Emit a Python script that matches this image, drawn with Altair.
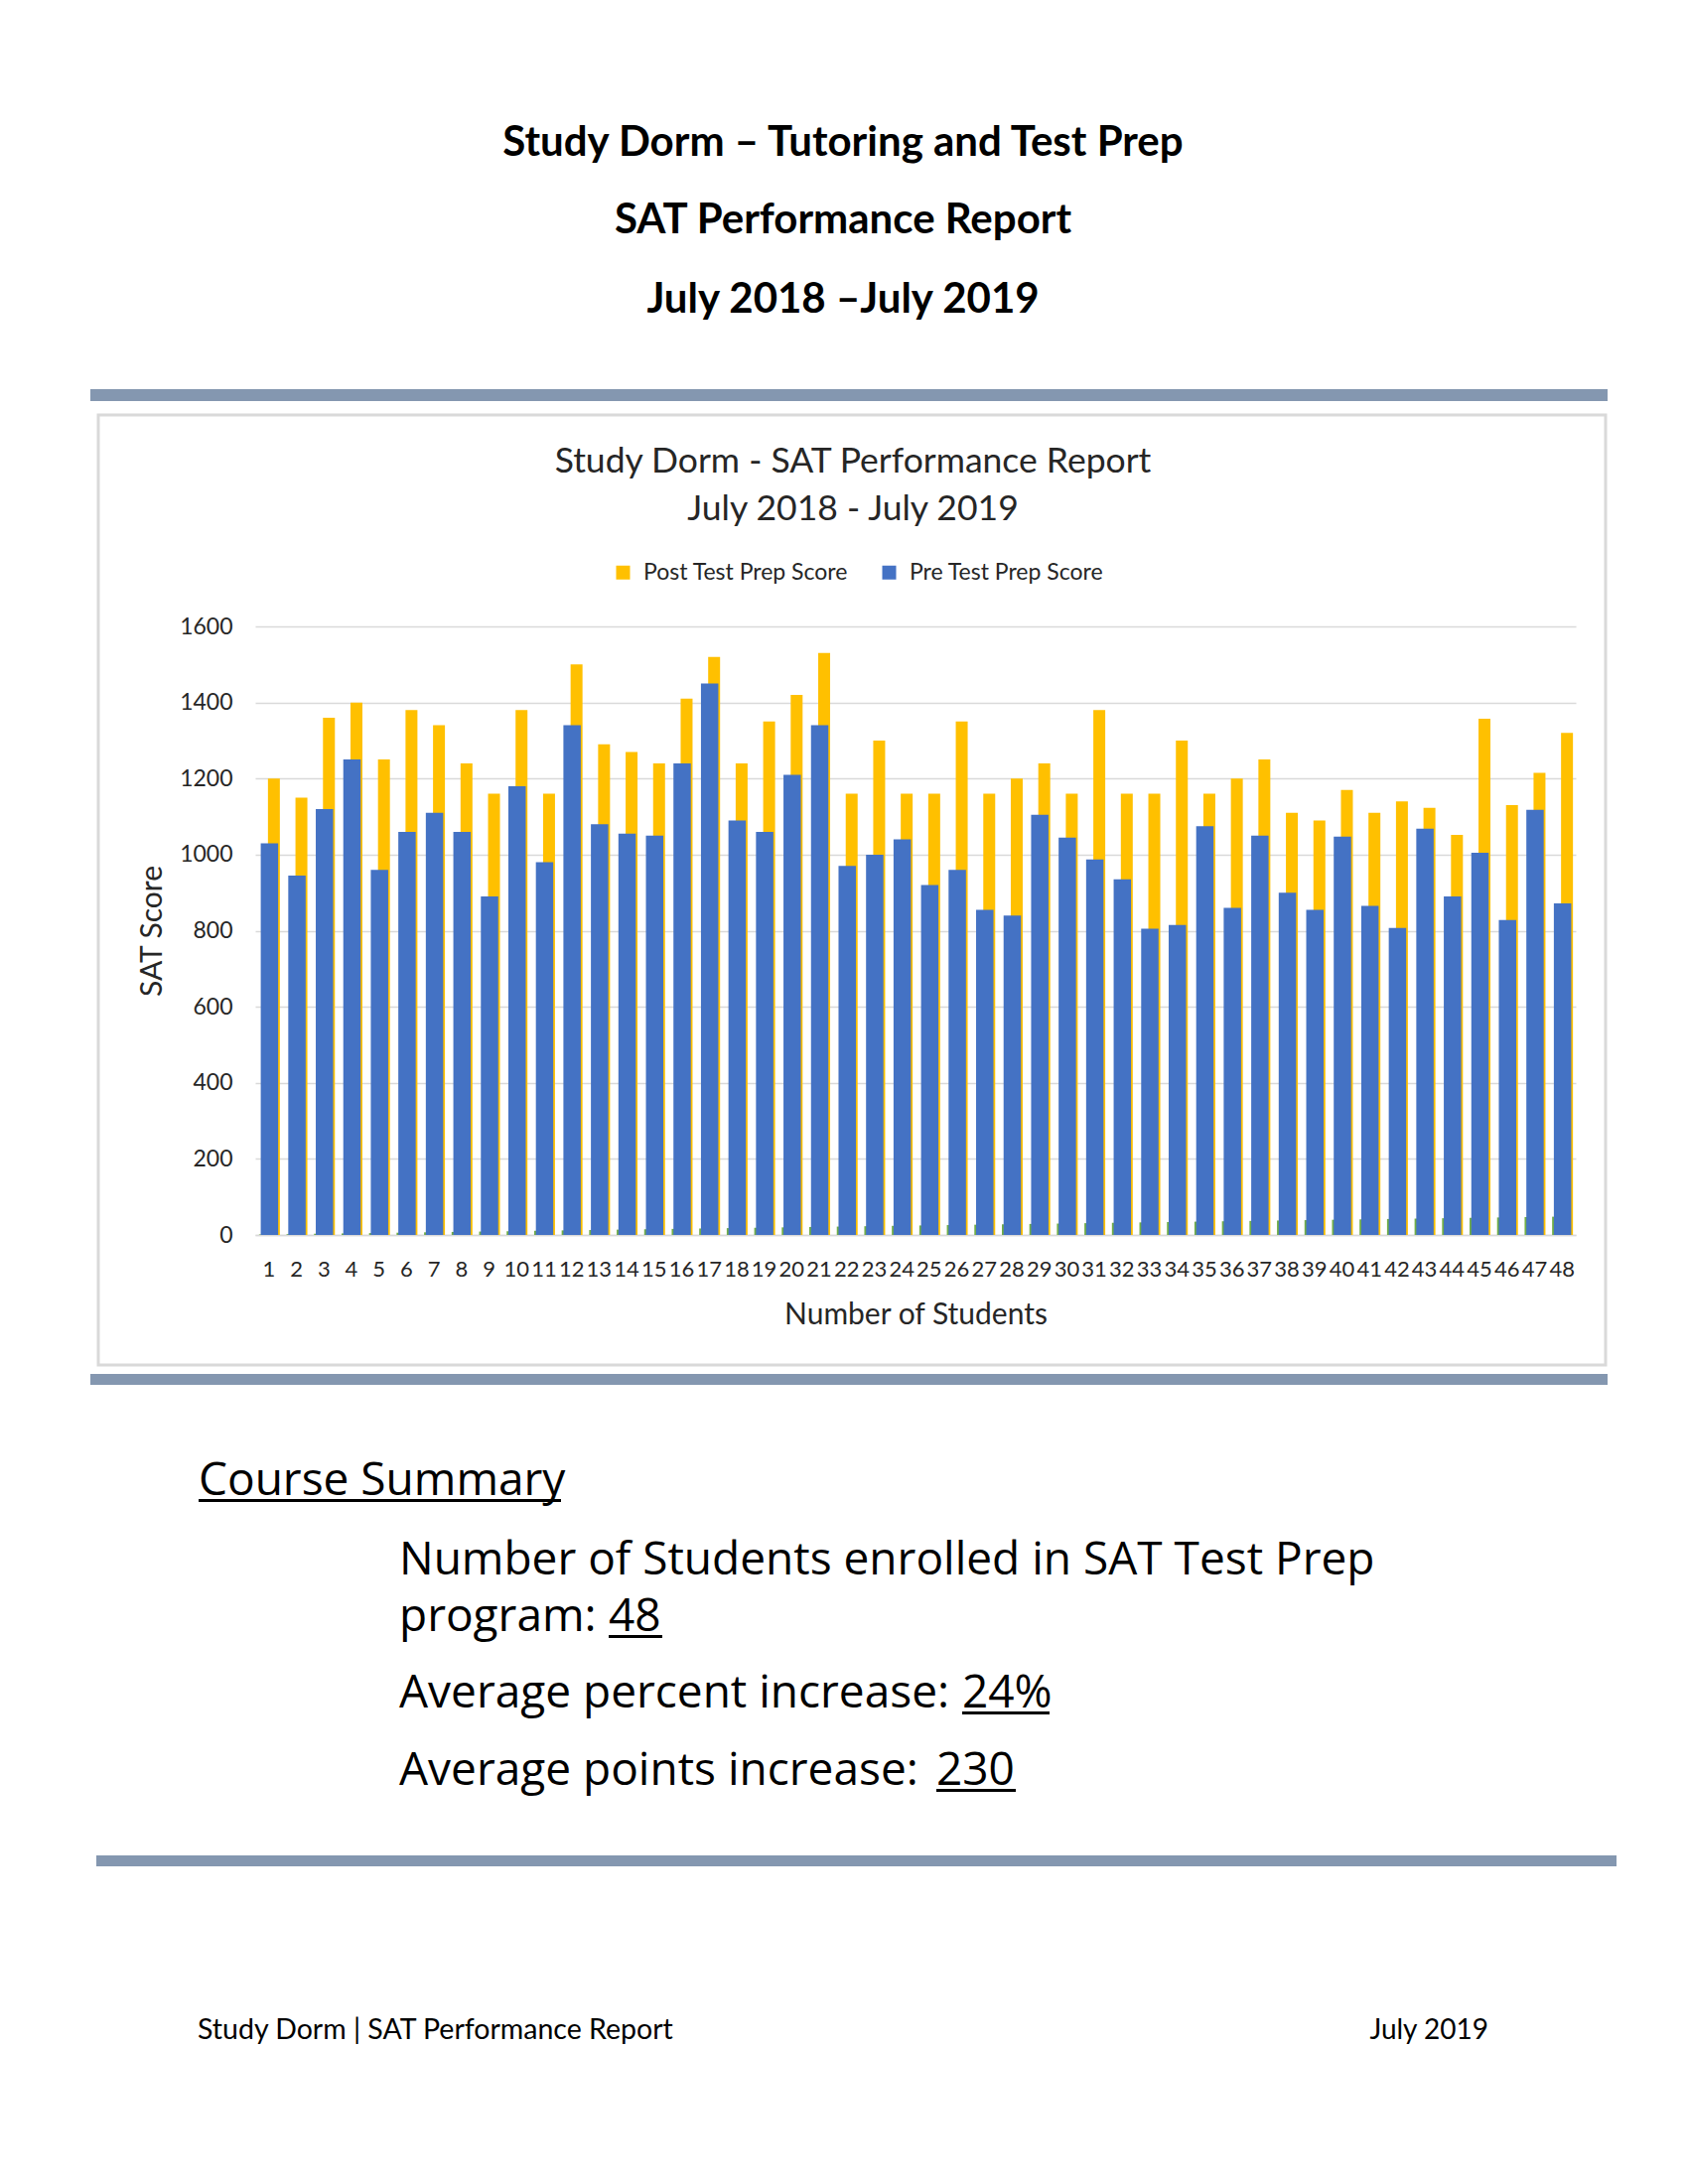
import altair as alt
import pandas as pd

# ---------------- data ----------------
students = list(range(1, 49))
pre_scores = [1030, 945, 1120, 1250, 960, 1060, 1110, 1060, 890, 1180, 980, 1340,
              1080, 1055, 1050, 1240, 1450, 1090, 1060, 1210, 1340, 970, 1000, 1040,
              920, 960, 855, 840, 1105, 1045, 987, 935, 805, 815, 1075, 860,
              1050, 900, 855, 1047, 865, 807, 1068, 890, 1005, 828, 1118, 872]
post_scores = [1200, 1150, 1360, 1400, 1250, 1380, 1340, 1240, 1160, 1380, 1160, 1500,
               1290, 1270, 1240, 1410, 1520, 1240, 1350, 1420, 1530, 1160, 1300, 1160,
               1160, 1350, 1160, 1200, 1240, 1160, 1380, 1160, 1160, 1300, 1160, 1200,
               1250, 1110, 1090, 1170, 1110, 1140, 1123, 1052, 1357, 1130, 1215, 1320]
student_number_series = students  # small third (green) series, student count
series_names = ["Post Test Prep Score", "Pre Test Prep Score"]
series_colors = ["#FFC000", "#4472C4"]
y_ticks = [0, 200, 400, 600, 800, 1000, 1200, 1400, 1600]

long_df = pd.DataFrame({
    "student": students * 2,
    "series": [series_names[0]] * len(students) + [series_names[1]] * len(students),
    "score": post_scores + pre_scores,
})
count_df = pd.DataFrame({"student": students, "score": student_number_series})
dummy = pd.DataFrame({"d": [0]})

# ---------------- layout helpers (page px -> plot px) ----------------
PLOT_L, PLOT_T, PLOT_W, PLOT_H = 257, 631, 1330, 613
def X(p):
    return p - PLOT_L
def Y(p):
    return p - PLOT_T

TXT = "#262626"
FONT = "Lato"

x_enc = alt.X("student:O", title="Number of Students",
              scale=alt.Scale(paddingInner=0, paddingOuter=0),
              axis=alt.Axis(labelAngle=0, labelFontSize=22, labelFont=FONT, labelColor=TXT,
                            labelOverlap=False, labelPadding=24, ticks=False,
                            domainColor="#D9D9D9", domainWidth=1.5,
                            titleFont=FONT, titleFontSize=30, titleFontWeight="normal",
                            titleColor=TXT, titlePadding=20, grid=False))
y_enc = alt.Y("score:Q", title="SAT Score",
              scale=alt.Scale(domain=[0, 1600], nice=False),
              axis=alt.Axis(values=y_ticks, format="d", labelFontSize=23, labelFont=FONT,
                            labelColor=TXT, labelPadding=23, ticks=False, domain=False,
                            gridColor="#D9D9D9", gridWidth=1.5,
                            titleFont=FONT, titleFontSize=30, titleFontWeight="normal",
                            titleColor=TXT, titlePadding=12))
color_enc = alt.Color("series:N",
                      scale=alt.Scale(domain=series_names, range=series_colors),
                      legend=alt.Legend(orient="none", legendX=X(616), legendY=Y(565),
                                        direction="horizontal", title=None,
                                        symbolType="square", symbolSize=196,
                                        symbolStrokeWidth=0, labelFont=FONT,
                                        labelFontSize=23, labelColor=TXT, labelLimit=0,
                                        labelOffset=9, columnPadding=29))

post_bars = alt.Chart(long_df).transform_filter(
    alt.datum.series == series_names[0]
).mark_bar(width=12, xOffset=5).encode(x=x_enc, y=y_enc, color=color_enc)

green_bars = alt.Chart(count_df).mark_bar(width=17, xOffset=-1.5, color="#70AD47").encode(
    x=x_enc, y=y_enc)

pre_bars = alt.Chart(long_df).transform_filter(
    alt.datum.series == series_names[1]
).mark_bar(width=17.5, xOffset=0.5).encode(x=x_enc, y=y_enc, color=color_enc)

# ---------------- page decorations ----------------
def band(x1, x2, y1, y2, color="#8497B0"):
    return alt.Chart(dummy).mark_rect(color=color).encode(
        x=alt.value(X(x1)), x2=alt.value(X(x2)), y=alt.value(Y(y1)), y2=alt.value(Y(y2)))

def text(s, x, y, size, weight="normal", align="center", baseline="alphabetic",
         font=FONT, color="#000000"):
    return alt.Chart(dummy).mark_text(text=s, fontSize=size, fontWeight=weight, align=align,
                                      baseline=baseline, font=font, color=color).encode(
        x=alt.value(X(x)), y=alt.value(Y(y)))

box = alt.Chart(dummy).mark_rect(filled=False, stroke="#D9D9D9", strokeWidth=3).encode(
    x=alt.value(X(99)), x2=alt.value(X(1617)), y=alt.value(Y(418)), y2=alt.value(Y(1375)))

decor = [
    box,
    band(91, 1619, 392, 404),
    band(91, 1619, 1384, 1395),
    band(97, 1628, 1869, 1880),
    text("Study Dorm \u2013 Tutoring and Test Prep", 849, 157, 42, weight="bold"),
    text("SAT Performance Report", 849, 235, 42, weight="bold"),
    text("July 2018 \u2013July 2019", 849, 315, 42, weight="bold"),
    text("Study Dorm - SAT Performance Report", 859, 476, 35.5, color=TXT),
    text("July 2018 - July 2019", 859, 524, 35.5, color=TXT),
]

SUM_FONT = "Open Sans"
SUM = 46
summary = [
    text("Course Summary", 200, 1506, SUM, align="left", font=SUM_FONT),
    band(200, 565, 1510, 1513, color="#000000"),
    text("Number of Students enrolled in SAT Test Prep", 402, 1586, SUM, align="left", font=SUM_FONT),
    text("program:", 402, 1643, SUM, align="left", font=SUM_FONT),
    text("48", 613, 1643, SUM, align="left", font=SUM_FONT),
    band(613, 667, 1647, 1650, color="#000000"),
    text("Average percent increase:", 402, 1720, SUM, align="left", font=SUM_FONT),
    text("24%", 969, 1720, SUM, align="left", font=SUM_FONT),
    band(969, 1057, 1724, 1727, color="#000000"),
    text("Average points increase:", 402, 1798, SUM, align="left", font=SUM_FONT),
    text("230", 943, 1798, SUM, align="left", font=SUM_FONT),
    band(943, 1023, 1802, 1805, color="#000000"),
    text("Study Dorm | SAT Performance Report", 199, 2054, 28.5, align="left"),
    text("July 2019", 1499, 2054, 28, align="right"),
]

chart = alt.layer(
    *decor, post_bars, green_bars, pre_bars, *summary
).properties(
    width=PLOT_W, height=PLOT_H,
    padding={"left": PLOT_L - 8, "top": PLOT_T - 8,
             "right": 1684 - (PLOT_L - 8) - PLOT_W,
             "bottom": 2184 - (PLOT_T - 8) - PLOT_H},
    autosize=alt.AutoSizeParams(type="none"),
    background="white",
).configure_view(stroke=None)

chart.save("out.html", embed_options={"renderer": "svg", "actions": False})
